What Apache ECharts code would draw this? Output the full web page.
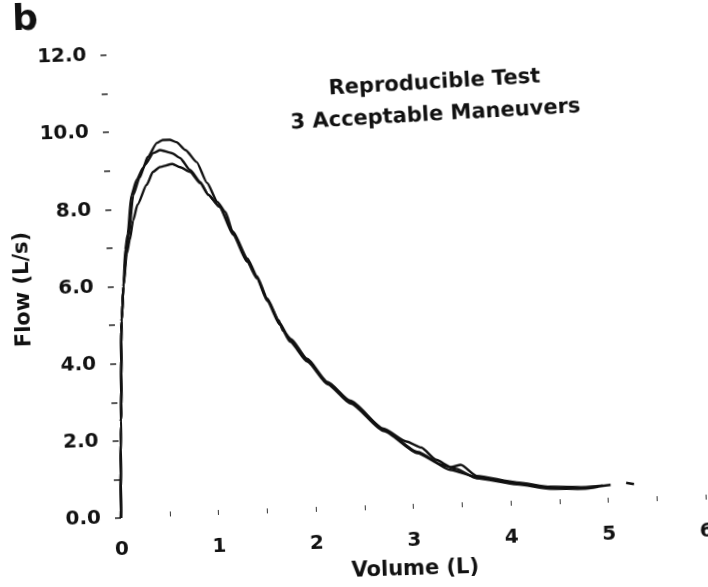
<!DOCTYPE html>
<html>
<head>
<meta charset="utf-8">
<script src="https://cdn.jsdelivr.net/npm/echarts@6/dist/echarts.min.js"></script>
<style>
  html, body { margin: 0; padding: 0; background: #fff; }
  #wrap { position: relative; width: 708px; height: 587px; overflow: hidden; background: #fff; }
  /* the scanned figure is tilted a little, so the whole chart is turned about the axis origin */
  #chart { position: absolute; left: 0; top: 0; width: 740px; height: 610px;
           transform-origin: 121px 518px; transform: rotate(-1.8deg); }
</style>
</head>
<body>
<div id="wrap"><div id="chart"></div></div>
<script>
// volume (L), flow (L/s)
var riseCommon = [[0, 0], [0.03, 2.5], [0.07, 5.1], [0.1, 6.0]];

var peakA = [[0.13, 6.95], [0.16, 7.35], [0.21, 8.35], [0.27, 8.75], [0.34, 9.05], [0.39, 9.33],
             [0.49, 9.69], [0.55, 9.76], [0.62, 9.76], [0.69, 9.69], [0.78, 9.48], [0.89, 9.16],
             [0.99, 8.61], [1.09, 8.11], [1.17, 7.84]];
var peakB = [[0.14, 6.9], [0.17, 7.3], [0.23, 8.36], [0.3, 8.8], [0.36, 9.13], [0.45, 9.43],
             [0.52, 9.5], [0.64, 9.41], [0.72, 9.28], [0.82, 8.96], [0.92, 8.64], [1.0, 8.3],
             [1.11, 7.98]];
var peakC = [[0.145, 6.85], [0.18, 7.2], [0.22, 7.7], [0.27, 8.1], [0.37, 8.61], [0.44, 8.94],
             [0.51, 9.06], [0.64, 9.13], [0.72, 9.04], [0.82, 8.91], [0.92, 8.61], [1.0, 8.3],
             [1.11, 7.98]];

var tailA = [[1.24, 7.29], [1.375, 6.58], [1.47, 6.13], [1.57, 5.53], [1.69, 4.92], [1.79, 4.47],
             [1.96, 3.94], [2.16, 3.33], [2.39, 2.82], [2.72, 2.07], [3.06, 1.47], [3.39, 0.98],
             [3.66, 0.77], [4.07, 0.58], [4.41, 0.43], [4.75, 0.4], [5.03, 0.46],
             [5.1, '-'], [5.19, 0.5], [5.27, 0.46]];
var tailB = [[1.24, 7.33], [1.38, 6.62], [1.47, 6.16], [1.57, 5.57], [1.68, 5.0], [1.72, 4.72],
             [1.8, 4.5], [1.96, 3.97], [2.16, 3.36], [2.39, 2.85], [2.72, 2.1], [2.95, 1.75],
             [3.1, 1.58], [3.25, 1.25], [3.4, 1.05], [3.5, 1.1], [3.66, 0.8], [4.07, 0.6],
             [4.41, 0.46], [4.75, 0.42], [4.95, 0.45]];
var tailC = [[1.24, 7.25], [1.375, 6.54], [1.47, 6.1], [1.57, 5.5], [1.69, 4.88], [1.79, 4.43],
             [1.96, 3.9], [2.16, 3.3], [2.39, 2.78], [2.72, 2.04], [3.06, 1.44], [3.3, 1.12],
             [3.45, 1.0], [3.66, 0.74], [4.07, 0.55], [4.41, 0.41], [4.75, 0.38], [4.9, 0.42]];

var titleLines = ['Reproducible Test', '3 Acceptable Maneuvers'];

var font = '"DejaVu Sans", "Liberation Sans", sans-serif';
var ink = '#111';

function curve(name, data) {
  return {
    name: name,
    type: 'line',
    data: data,
    showSymbol: false,
    smooth: 0.2,
    smoothMonotone: 'x',
    lineStyle: { color: ink, width: 2.4 },
    animation: false
  };
}

var myChart = echarts.init(document.getElementById('chart'));
myChart.setOption({
  backgroundColor: '#fff',
  textStyle: { fontFamily: font },
  grid: { left: 121, top: 55, width: 585, height: 463 },
  xAxis: {
    type: 'value',
    min: 0,
    max: 6,
    interval: 0.5,
    name: 'Volume (L)',
    nameLocation: 'middle',
    nameGap: 50,
    nameTextStyle: { color: ink, fontSize: 21, fontWeight: 'bold', fontFamily: font },
    axisLine: { show: false },
    axisTick: { show: true, inside: true, length: 5, lineStyle: { color: '#333', width: 1 } },
    splitLine: { show: false },
    axisLabel: {
      margin: 22,
      color: ink,
      fontSize: 20,
      fontWeight: 'bold',
      fontFamily: font,
      formatter: function (v) { return v % 1 === 0 ? String(v) : ''; }
    }
  },
  yAxis: {
    type: 'value',
    min: 0,
    max: 12,
    interval: 1,
    name: 'Flow (L/s)',
    nameLocation: 'middle',
    nameGap: 70,
    nameTextStyle: { color: ink, fontSize: 21, fontWeight: 'bold', fontFamily: font },
    axisLine: { show: false },
    axisTick: { show: true, length: 6, lineStyle: { color: '#222', width: 1.5 } },
    splitLine: { show: false },
    axisLabel: {
      margin: 20,
      color: ink,
      fontSize: 20,
      fontWeight: 'bold',
      fontFamily: font,
      formatter: function (v) { return v % 2 === 0 ? v.toFixed(1) : ''; }
    }
  },
  graphic: [
    {
      type: 'text', x: 41, y: 18,
      style: { text: 'b', font: 'bold 36px ' + font, fill: ink, align: 'center', verticalAlign: 'middle' }
    },
    {
      type: 'text', x: 448, y: 93, rotation: 0.026,
      style: { text: titleLines[0], font: 'bold 21px ' + font, fill: ink, align: 'center', verticalAlign: 'middle' }
    },
    {
      type: 'text', x: 448, y: 125, rotation: 0.026,
      style: { text: titleLines[1], font: 'bold 21px ' + font, fill: ink, align: 'center', verticalAlign: 'middle' }
    }
  ],
  series: [
    curve('Maneuver 1', riseCommon.concat(peakA, tailA)),
    curve('Maneuver 2', riseCommon.concat(peakB, tailB)),
    curve('Maneuver 3', riseCommon.concat(peakC, tailC))
  ]
});
</script>
</body>
</html>
